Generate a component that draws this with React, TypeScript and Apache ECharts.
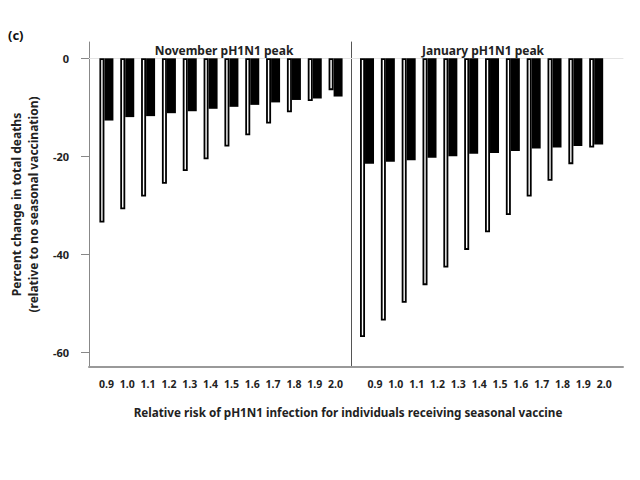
import React, { useEffect, useRef } from "react";
import * as echarts from "echarts";

const categories = ["0.9", "1.0", "1.1", "1.2", "1.3", "1.4", "1.5", "1.6", "1.7", "1.8", "1.9", "2.0"];
const novWhite = [-33.5, -30.8, -28.2, -25.6, -23.0, -20.6, -18.0, -15.7, -13.3, -11.0, -8.7, -6.5];
const novBlack = [-12.7, -12.0, -11.8, -11.2, -10.8, -10.3, -9.9, -9.5, -9.0, -8.5, -8.2, -7.8];
const janWhite = [-56.9, -53.5, -49.9, -46.3, -42.7, -39.1, -35.5, -32.0, -28.2, -25.0, -21.6, -18.2];
const janBlack = [-21.5, -21.1, -20.8, -20.3, -20.0, -19.5, -19.3, -18.9, -18.4, -18.2, -17.9, -17.6];
const yTicks = [-60, -40, -20, 0];
const panelTitles = ["November pH1N1 peak", "January pH1N1 peak"];
const panelLabel = "(c)";
const yTitle = "Percent change in total deaths\n(relative to no seasonal vaccination)";
const xTitle = "Relative risk of pH1N1 infection for individuals receiving seasonal vaccine";

const Y_MIN = -63;
const Y_MAX = 3.33;
const FONT = "Noto Sans";

export default function App() {
  const ref = useRef<HTMLDivElement>(null);
  useEffect(() => {
    if (!ref.current) return;
    const chart = echarts.init(ref.current, null, { renderer: "svg" });
    const top = 42;
    const height = 325;
    const valAxisBase = { type: "value", min: Y_MIN, max: Y_MAX, splitLine: { show: false } };
    const hiddenY = (gi: number) => ({ ...valAxisBase, gridIndex: gi, show: false });
    const catAxis = (gi: number, pad: number) => ({
      type: "category",
      gridIndex: gi,
      data: categories,
      axisLine: { show: false },
      axisTick: { show: false },
      axisLabel: {
        margin: 11,
        fontFamily: FONT,
        fontWeight: "bold",
        fontSize: 10.5,
        color: "#222",
        padding: [0, 0, 0, pad],
      },
    });
    const whiteStyle = { color: "#ffffff", borderColor: "#000000", borderWidth: 1.8 };
    const blackStyle = { color: "#000000" };
    const option: any = {
      animation: false,
      backgroundColor: "#ffffff",
      grid: [
        { left: 83, width: 540, top, height },
        { left: 83, width: 540, top, height },
        { left: 83, width: 268, top, height },
        { left: 96, width: 250, top, height },
        { left: 356.6, width: 250, top, height },
      ],
      xAxis: [
        {
          type: "value", gridIndex: 0, min: 0, max: 1, position: "bottom",
          axisLine: { onZero: false, lineStyle: { color: "#999", width: 2 } },
          axisTick: { show: false }, axisLabel: { show: false }, splitLine: { show: false },
        },
        {
          type: "value", gridIndex: 1, min: 0, max: 1, position: "bottom",
          axisLine: { onZero: true, lineStyle: { color: "#e4e4e4", width: 1 } },
          axisTick: { show: false }, axisLabel: { show: false }, splitLine: { show: false },
        },
        { type: "value", gridIndex: 2, min: 0, max: 1, show: false },
        catAxis(3, 0),
        catAxis(4, 16),
      ],
      yAxis: [
        {
          ...valAxisBase,
          gridIndex: 0,
          position: "left",
          axisLine: { show: true, onZero: false, lineStyle: { color: "#888", width: 1 } },
          axisTick: { show: true, length: 8, customValues: yTicks, lineStyle: { color: "#888" } },
          axisLabel: {
            customValues: yTicks,
            margin: 20,
            fontFamily: FONT,
            fontWeight: "bold",
            fontSize: 11,
            color: "#222",
          },
          name: yTitle,
          nameLocation: "middle",
          nameRotate: 90,
          nameGap: 39,
          nameTextStyle: {
            fontFamily: FONT,
            fontWeight: "bold",
            fontSize: 12,
            color: "#222",
            lineHeight: 17,
          },
        },
        hiddenY(1),
        {
          ...valAxisBase,
          gridIndex: 2,
          position: "right",
          axisLine: { show: true, onZero: false, lineStyle: { color: "#555", width: 1 } },
          axisTick: { show: false },
          axisLabel: { show: false },
        },
        hiddenY(3),
        hiddenY(4),
      ],
      series: [
        { type: "bar", xAxisIndex: 3, yAxisIndex: 3, data: novWhite, barWidth: 5, barGap: "0%", itemStyle: whiteStyle },
        { type: "bar", xAxisIndex: 3, yAxisIndex: 3, data: novBlack, barWidth: 9, barGap: "0%", itemStyle: blackStyle },
        { type: "bar", xAxisIndex: 4, yAxisIndex: 4, data: janWhite, barWidth: 5, barGap: "0%", itemStyle: whiteStyle },
        { type: "bar", xAxisIndex: 4, yAxisIndex: 4, data: janBlack, barWidth: 9, barGap: "0%", itemStyle: blackStyle },
      ],
      graphic: [
        {
          type: "text", x: 8, y: 35,
          style: { text: panelLabel, font: `bold 13px "${FONT}"`, fill: "#111", verticalAlign: "middle", align: "left" },
        },
        {
          type: "text", x: 224, y: 50,
          style: { text: panelTitles[0], font: `bold 12px "${FONT}"`, fill: "#222", verticalAlign: "middle", align: "center" },
        },
        {
          type: "text", x: 483, y: 50,
          style: { text: panelTitles[1], font: `bold 12px "${FONT}"`, fill: "#222", verticalAlign: "middle", align: "center" },
        },
        {
          type: "text", x: 348, y: 412,
          style: { text: xTitle, font: `bold 11.7px "${FONT}"`, fill: "#222", verticalAlign: "middle", align: "center" },
        },
      ],
    };
    chart.setOption(option);
    return () => chart.dispose();
  }, []);
  return (
    <div
      ref={ref}
      style={{ position: "fixed", left: 0, top: 0, width: 640, height: 480, background: "#fff" }}
    />
  );
}
